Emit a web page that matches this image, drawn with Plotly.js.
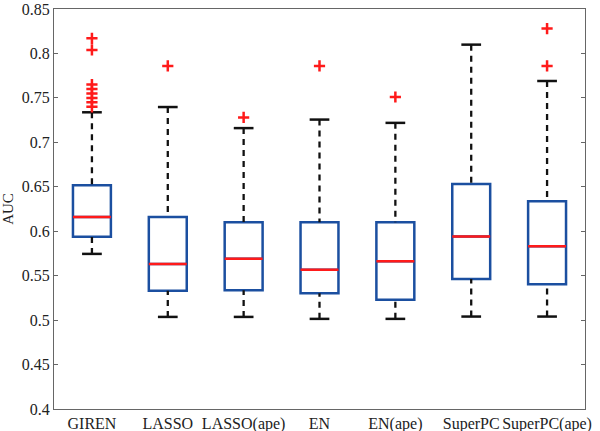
<!DOCTYPE html>
<html>
<head>
<meta charset="utf-8">
<script src="https://cdn.plot.ly/plotly-3.0.1.min.js"></script>
<style>
  html, body { margin: 0; padding: 0; background: #fff; }
  #chart { width: 600px; height: 431px; }
</style>
</head>
<body>
<div id="chart"></div>
<script>
// ---- data ----
const categories = ["GIREN", "LASSO", "LASSO(ape)", "EN", "EN(ape)", "SuperPC", "SuperPC(ape)"];
const lowerWhisker = [0.5745, 0.5036, 0.5036, 0.5014, 0.5014, 0.5040, 0.5040];
const q1Values     = [0.5938, 0.5329, 0.5337, 0.5303, 0.5229, 0.5463, 0.5403];
const medianValues = [0.6160, 0.5630, 0.5690, 0.5567, 0.5663, 0.5941, 0.5830];
const q3Values     = [0.6517, 0.6160, 0.6100, 0.6100, 0.6100, 0.6532, 0.6336];
const upperWhisker = [0.7338, 0.7397, 0.7160, 0.7256, 0.7219, 0.8099, 0.7690];
const outlierValues = [
  [0.817, 0.804, 0.765, 0.760, 0.755, 0.750, 0.745, 0.740],
  [0.786],
  [0.728],
  [0.786],
  [0.751],
  [],
  [0.828, 0.786]
];
const yTickVals = [0.4, 0.45, 0.5, 0.55, 0.6, 0.65, 0.7, 0.75, 0.8, 0.85];
const yTickText = ["0.4", "0.45", "0.5", "0.55", "0.6", "0.65", "0.7", "0.75", "0.8", "0.85"];

// ---- style ----
const BOX_W = 0.5, CAP_W = 0.26;
const BLUE = "#1b4fa0", RED = "#ff1a1a", BLACK = "#111111";
const SERIF = "Liberation Serif";
const pos = categories.map((_, i) => i);

function segments(x0s, x1s, y0s, y1s) {
  const xs = [], ys = [];
  for (let i = 0; i < x0s.length; i++) {
    xs.push(x0s[i], x1s[i], null);
    ys.push(y0s[i], y1s[i], null);
  }
  return { x: xs, y: ys };
}

const traces = [];
// whiskers (dashed black)
const upW = segments(pos, pos, upperWhisker, q3Values);
const loW = segments(pos, pos, lowerWhisker, q1Values);
[upW, loW].forEach(s => traces.push({
  type: "scatter", mode: "lines", x: s.x, y: s.y, hoverinfo: "skip",
  line: { color: BLACK, width: 2.3, dash: "6px,5px" }, connectgaps: false
}));
// caps
const capL = pos.map(p => p - CAP_W / 2), capR = pos.map(p => p + CAP_W / 2);
[segments(capL, capR, upperWhisker, upperWhisker), segments(capL, capR, lowerWhisker, lowerWhisker)]
  .forEach(s => traces.push({
    type: "scatter", mode: "lines", x: s.x, y: s.y, hoverinfo: "skip",
    line: { color: BLACK, width: 2.5 }, connectgaps: false
  }));
// boxes
traces.push({
  type: "box", x: pos, q1: q1Values, median: medianValues, q3: q3Values,
  lowerfence: q1Values, upperfence: q3Values, width: BOX_W, whiskerwidth: 0,
  line: { color: BLUE, width: 2.5 }, fillcolor: "rgba(0,0,0,0)", hoverinfo: "skip",
  boxpoints: false
});
// medians
const medL = pos.map(p => p - BOX_W / 2), medR = pos.map(p => p + BOX_W / 2);
const med = segments(medL, medR, medianValues, medianValues);
traces.push({
  type: "scatter", mode: "lines", x: med.x, y: med.y, hoverinfo: "skip",
  line: { color: RED, width: 2.5 }, connectgaps: false
});
// outliers
const ox = [], oy = [];
outlierValues.forEach((arr, i) => arr.forEach(v => { ox.push(i); oy.push(v); }));
traces.push({
  type: "scatter", mode: "markers", x: ox, y: oy, hoverinfo: "skip",
  marker: { symbol: "cross-thin", size: 8, line: { color: RED, width: 2.5 } }
});

const layout = {
  width: 600, height: 431,
  margin: { l: 54, r: 15, t: 9, b: 22 },
  paper_bgcolor: "#fff", plot_bgcolor: "#fff",
  showlegend: false,
  font: { family: SERIF, size: 16, color: "#222" },
  xaxis: {
    range: [-0.5, 6.5], tickvals: pos, ticktext: categories,
    ticks: "", showgrid: false, zeroline: false,
    showline: true, mirror: true, linecolor: "#666", linewidth: 1,
    tickfont: { family: SERIF, size: 16, color: "#222" }, fixedrange: true
  },
  yaxis: {
    range: [0.4, 0.85], tickvals: yTickVals, ticktext: yTickText,
    ticks: "inside", ticklen: 4, tickcolor: "#666", tickwidth: 1,
    ticklabeloverflow: "allow",
    showgrid: false, zeroline: false,
    showline: true, mirror: "ticks", linecolor: "#666", linewidth: 1,
    tickfont: { family: SERIF, size: 16, color: "#222" },
    title: { text: "AUC", font: { family: SERIF, size: 15, color: "#222" }, standoff: 6 },
    fixedrange: true
  }
};

Plotly.newPlot("chart", traces, layout, { displayModeBar: false, staticPlot: true });
</script>
</body>
</html>
